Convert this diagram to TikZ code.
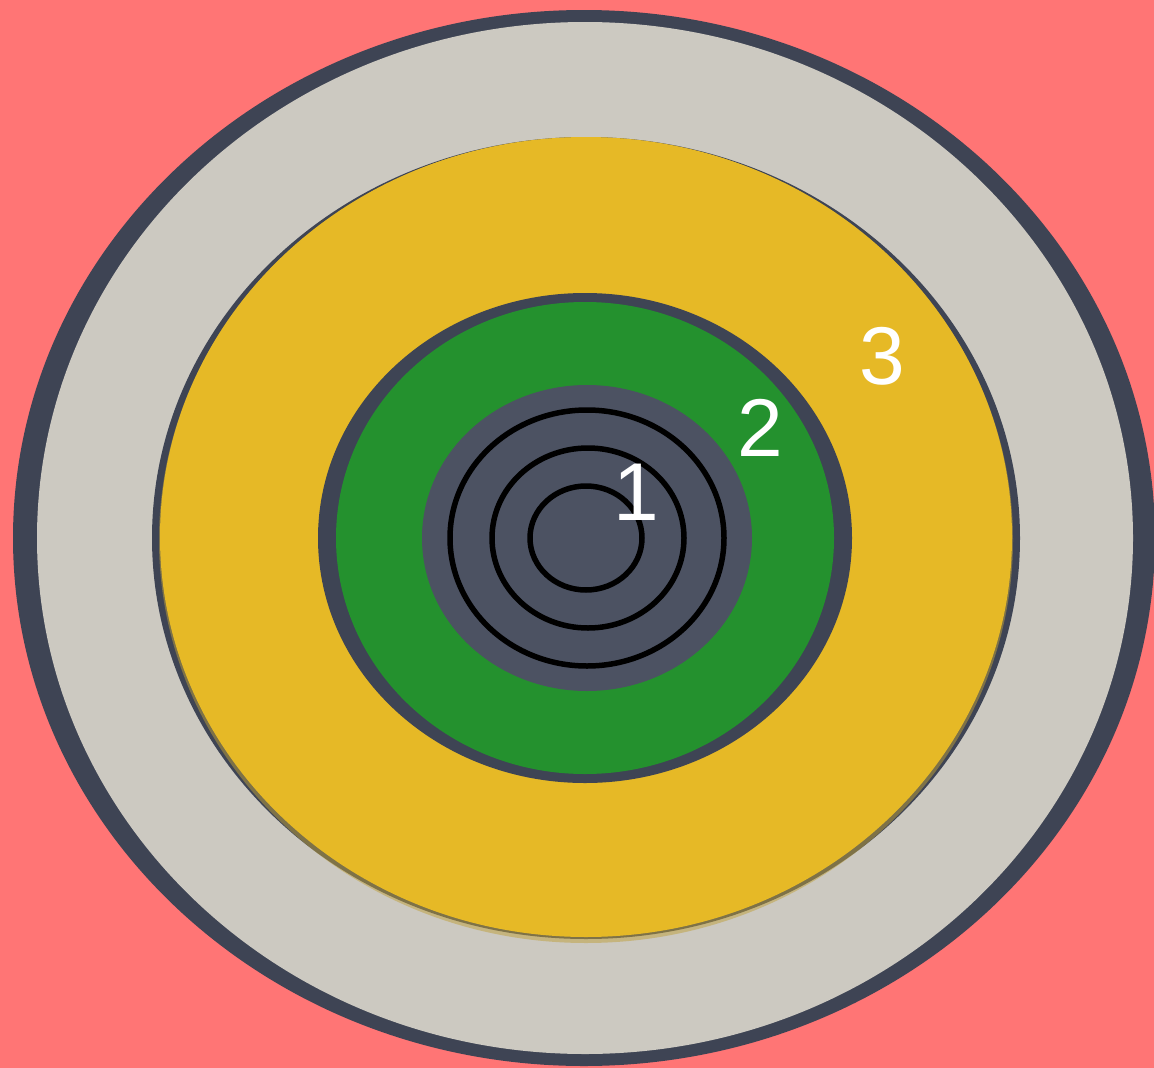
\documentclass[tikz,border=0pt]{standalone}
\usepackage{fontspec}
\setmainfont{Liberation Sans}
\definecolor{rosa}{RGB}{255,117,117}
\definecolor{pizarra}{RGB}{62,68,84}
\definecolor{pizarraclara}{RGB}{76,82,98}
\definecolor{grisclaro}{RGB}{204,201,193}
\definecolor{amarillo}{RGB}{230,185,38}
\definecolor{verde}{RGB}{36,145,46}
\usetikzlibrary{positioning}

\begin{document}
\begin{tikzpicture}[
    x=1pt, y=-1pt,
    ring/.style={draw=black, line width=5.5pt},
    zone/.style={font=\fontsize{82}{84}\selectfont, text=white, inner sep=0pt}
  ]
    % lienzo
    \useasboundingbox (0,0) rectangle (1154,1068);
    \fill[rosa] (0,0) rectangle (1154,1068);

    % anillo exterior
    \fill[pizarra] (584,538) ellipse [x radius=571, y radius=528];
    \fill[grisclaro] (585,538) ellipse [x radius=548, y radius=516];

    % zona amarilla
    \fill[pizarra] (586,538) ellipse [x radius=434, y radius=401];
    \fill[amarillo!80!grisclaro!85!black, opacity=.5] (586,540) ellipse [x radius=427, y radius=403];
    \fill[amarillo] (586,537) ellipse [x radius=426, y radius=400];

    % zona verde
    \fill[pizarra] (585,538) ellipse [x radius=267, y radius=245];
    \fill[verde] (585,538) ellipse [x radius=249, y radius=236];

    % centro
    \fill[pizarraclara] (587,538) ellipse [x radius=165, y radius=153];
    \draw[ring] (587,538) ellipse [x radius=137, y radius=128];
    \draw[ring] (588,538) ellipse [x radius=96, y radius=90];
    \draw[ring] (586,538) ellipse [x radius=56, y radius=52];

    % etiquetas
    \node[zone] (z1) at (636,492) {1};
    \node[zone] (z2) at (760,428) {2};
    \node[zone] (z3) at (882,356) {3};
  \end{tikzpicture}
\end{document}
